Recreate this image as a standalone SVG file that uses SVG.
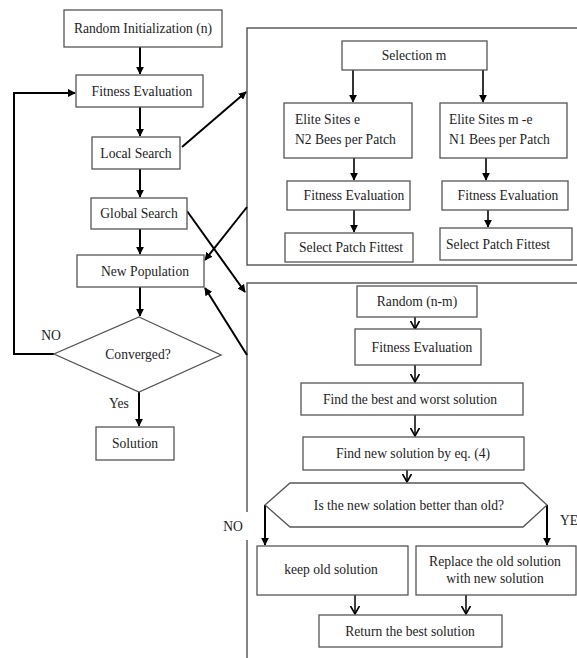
<svg xmlns="http://www.w3.org/2000/svg" width="577" height="658" viewBox="0 0 577 658">
<style>
.box{fill:#fff;stroke:#555;stroke-width:1.3}
.panel{fill:none;stroke:#444;stroke-width:1.3}
.t{font-family:"Liberation Serif","Times New Roman",Times,serif;font-size:13.6px;fill:#1c1c24;text-anchor:middle;dominant-baseline:central}
.tl{text-anchor:start}
.c{fill:none;stroke:#000;stroke-width:2}
.c2{fill:none;stroke:#000;stroke-width:1.6}
.co{fill:none;stroke:#000;stroke-width:1.5}
</style>
<defs>
<marker id="af" viewBox="0 0 10 10" refX="9" refY="5" markerWidth="8" markerHeight="8" markerUnits="userSpaceOnUse" orient="auto">
<path d="M0,0 L10,5 L0,10 z" fill="#000"/>
</marker>
<marker id="ao" viewBox="0 0 10 10" refX="9" refY="5" markerWidth="9" markerHeight="10" markerUnits="userSpaceOnUse" orient="auto">
<path d="M0,0 L9,5 L0,10" fill="none" stroke="#000" stroke-width="1.8"/>
</marker>
</defs>

<!-- panels -->
<rect class="panel" x="247" y="28" width="340" height="237"/>
<rect class="panel" x="247" y="283" width="340" height="390"/>
<rect x="236" y="512" width="14" height="28" fill="#fff"/>

<g id="connectors">
<line class="c" x1="140" y1="47" x2="140" y2="74" marker-end="url(#af)"/>
<line class="c" x1="140" y1="107" x2="140" y2="136" marker-end="url(#af)"/>
<line class="c" x1="140" y1="169" x2="140" y2="197" marker-end="url(#af)"/>
<line class="c" x1="140" y1="229" x2="140" y2="254" marker-end="url(#af)"/>
<line class="c" x1="140" y1="287" x2="140" y2="316" marker-end="url(#af)"/>
<line class="c" x1="139" y1="392" x2="139" y2="426" marker-end="url(#af)"/>
<polyline class="c" points="54,354 14,354 14,93 75,93" marker-end="url(#af)"/>
<line class="c" x1="182" y1="147" x2="246" y2="92" marker-end="url(#af)"/>
<line class="c" x1="187" y1="211" x2="245" y2="292" marker-end="url(#af)"/>
<line class="c" x1="247" y1="207" x2="205" y2="260" marker-end="url(#af)"/>
<line class="c" x1="247" y1="355" x2="205" y2="288" marker-end="url(#af)"/>
<!-- upper panel -->
<line class="c2" x1="353" y1="70" x2="353" y2="102" marker-end="url(#af)"/>
<line class="c2" x1="483" y1="70" x2="483" y2="102" marker-end="url(#af)"/>
<line class="c2" x1="354" y1="158" x2="354" y2="180" marker-end="url(#af)"/>
<line class="c2" x1="486" y1="158" x2="486" y2="180" marker-end="url(#af)"/>
<line class="c2" x1="354" y1="210" x2="354" y2="232" marker-end="url(#af)"/>
<line class="c2" x1="488" y1="210" x2="488" y2="227" marker-end="url(#af)"/>
<!-- lower panel -->
<line class="co" x1="415" y1="317" x2="415" y2="329" marker-end="url(#ao)"/>
<line class="co" x1="415" y1="365" x2="415" y2="382" marker-end="url(#ao)"/>
<line class="co" x1="415" y1="415" x2="415" y2="436" marker-end="url(#ao)"/>
<line class="co" x1="407" y1="470" x2="407" y2="482" marker-end="url(#ao)"/>
<polyline class="c" points="265,505 265,545" marker-end="url(#af)"/>
<polyline class="c" points="547,505 547,545" marker-end="url(#af)"/>
<line class="co" x1="355" y1="595" x2="355" y2="614" marker-end="url(#ao)"/>
<line class="co" x1="466" y1="595" x2="466" y2="614" marker-end="url(#ao)"/>
</g>

<g id="n_init"><rect class="box" x="64" y="10" width="158" height="37"/><text class="t" x="143" y="28.5">Random Initialization (n)</text></g>
<g id="n_fit"><rect class="box" x="76" y="75" width="127" height="32"/><text class="t" x="142" y="91">Fitness Evaluation</text></g>
<g id="n_local"><rect class="box" x="92" y="137" width="88" height="32"/><text class="t" x="136" y="153">Local Search</text></g>
<g id="n_global"><rect class="box" x="91" y="198" width="96" height="31"/><text class="t" x="139" y="213.5">Global Search</text></g>
<g id="n_newpop"><rect class="box" x="77" y="255" width="127" height="32"/><text class="t" x="145" y="271">New Population</text></g>
<g id="n_conv"><polygon class="box" points="139,317 221,355 139,392 54,354"/><text class="t" x="138" y="354">Converged?</text></g>
<g id="n_sol"><rect class="box" x="96" y="427" width="78" height="33"/><text class="t" x="135" y="443.5">Solution</text></g>
<text class="t" x="51" y="335">NO</text>
<text class="t" x="119" y="403">Yes</text>

<g id="n_sel"><rect class="box" x="342" y="41" width="145" height="29"/><text class="t" x="414" y="55.5">Selection m</text></g>
<g id="n_elite1"><rect class="box" x="284" y="103" width="128" height="55"/><text class="t tl" x="295" y="119">Elite Sites e</text><text class="t tl" x="295" y="139">N2 Bees per Patch</text></g>
<g id="n_elite2"><rect class="box" x="440" y="103" width="127" height="55"/><text class="t tl" x="449" y="119">Elite Sites m -e</text><text class="t tl" x="449" y="139">N1 Bees per Patch</text></g>
<g id="n_fit1"><rect class="box" x="287" y="181" width="123" height="29"/><text class="t" x="354" y="195.5">Fitness Evaluation</text></g>
<g id="n_fit2"><rect class="box" x="442" y="181" width="126" height="29"/><text class="t" x="508" y="195.5">Fitness Evaluation</text></g>
<g id="n_spf1"><rect class="box" x="285" y="233" width="128" height="29"/><text class="t" x="351" y="247.5">Select Patch Fittest</text></g>
<g id="n_spf2"><rect class="box" x="440" y="228" width="132" height="32"/><text class="t" x="498" y="244">Select Patch Fittest</text></g>

<g id="n_rand"><rect class="box" x="357" y="286" width="120" height="31"/><text class="t" x="417" y="301.5">Random (n-m)</text></g>
<g id="n_fit3"><rect class="box" x="355" y="329" width="126" height="36"/><text class="t" x="422" y="347">Fitness Evaluation</text></g>
<g id="n_best"><rect class="box" x="301" y="383" width="222" height="32"/><text class="t" x="410" y="399">Find the best and worst solution</text></g>
<g id="n_new"><rect class="box" x="303" y="437" width="221" height="33"/><text class="t" x="413" y="453.5">Find new solution by eq. (4)</text></g>
<g id="n_q"><polygon class="box" points="290,483 523,483 547,505 523,527 290,527 265,505"/><text class="t" x="409" y="505">Is the new solation better than old?</text></g>
<g id="n_keep"><rect class="box" x="257" y="546" width="151" height="49"/><text class="t" x="331" y="569">keep old solution</text></g>
<g id="n_repl"><rect class="box" x="416" y="546" width="160" height="49"/><text class="t" x="495" y="561">Replace the old solution</text><text class="t" x="495" y="578">with new solution</text></g>
<g id="n_ret"><rect class="box" x="319" y="615" width="183" height="32"/><text class="t" x="410" y="631">Return the best solution</text></g>
<text class="t" x="233" y="526">NO</text>
<text class="t tl" x="560" y="520">YE</text>
</svg>
